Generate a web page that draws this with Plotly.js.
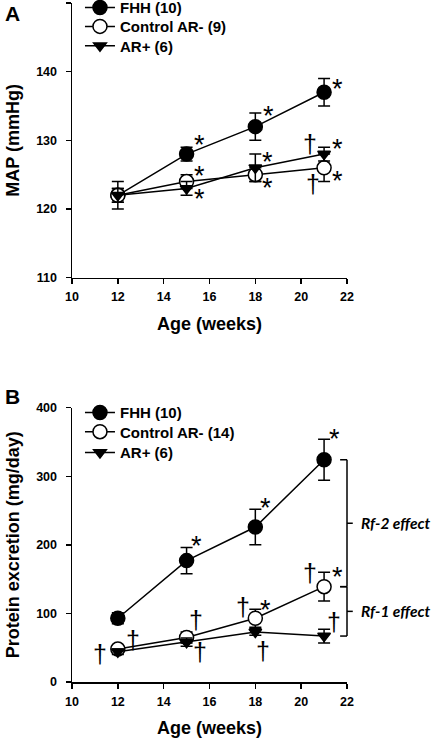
<!DOCTYPE html>
<html>
<head>
<meta charset="utf-8">
<script src="https://cdn.plot.ly/plotly-3.0.1.min.js"></script>
<style>html,body{margin:0;padding:0;background:#fff;}#chart{width:438px;height:742px;}</style>
</head>
<body>
<div id="chart"></div>
<script>
// ---- data ----
const weeks = [12, 15, 18, 21];
const xTicks = [10, 12, 14, 16, 18, 20, 22];

const mapFHH = [122, 128, 132, 137];
const mapFHHErr = [2, 1, 2, 2];
const mapCtrl = [122, 124, 125, 126];
const mapCtrlErr = [1, 1, 1, 2];
const mapAR = [122, 123, 126, 128];
const mapARErr = [1, 1, 2, 1];

const protFHH = [93, 177, 226, 324];
const protFHHErr = [8, 19, 26, 30];
const protCtrl = [48, 65, 93, 139];
const protCtrlErr = [5, 8, 13, 21];
const protAR = [44, 58, 73, 67];
const protARErr = [4, 6, 5, 10];

const namesTop = ["FHH (10)", "Control AR- (9)", "AR+ (6)"];
const namesBot = ["FHH (10)", "Control AR- (14)", "AR+ (6)"];

// ---- style ----
const FONT = "Liberation Sans, Arial, sans-serif";
const black = "#000";
const styles = [
  {symbol: "circle", size: 14, color: black},
  {symbol: "circle", size: 14, color: "#fff"},
  {symbol: "triangle-down", size: 11, color: black}
];

function mk(x, y, err, name, st, xa, ya, leg) {
  return {
    x: x, y: y, name: name, type: "scatter", mode: "lines+markers",
    xaxis: xa, yaxis: ya, legend: leg,
    line: {color: black, width: 1.5},
    marker: {symbol: st.symbol, size: st.size, color: st.color, line: {color: black, width: 1.5}},
    error_y: {type: "data", array: err, visible: true, color: black, thickness: 1.5, width: 6}
  };
}

const topSeries = [[mapFHH, mapFHHErr], [mapCtrl, mapCtrlErr], [mapAR, mapARErr]];
const botSeries = [[protFHH, protFHHErr], [protCtrl, protCtrlErr], [protAR, protARErr]];
const legIds = ["legend", "legend2", "legend3", "legend4", "legend5", "legend6"];

const traces = [];
topSeries.forEach((s, i) => traces.push(mk(weeks, s[0], s[1], namesTop[i], styles[i], "x", "y", legIds[i])));
botSeries.forEach((s, i) => traces.push(mk(weeks, s[0], s[1], namesBot[i], styles[i], "x2", "y2", legIds[3 + i])));

// significance marks: [panel, seriesIndex, pointIndex, symbol, dx, dy]
const marks = [
  ["top", 0, 1, "*", 12.6, 15], ["top", 0, 2, "*", 13, 17], ["top", 0, 3, "*", 13.5, 9],
  ["top", 1, 1, "*", 12.6, 12], ["top", 2, 1, "*", 12.6, -5],
  ["top", 2, 2, "*", 12.6, 12], ["top", 1, 2, "*", 12.6, -7],
  ["top", 2, 3, "*", 13.5, 11], ["top", 2, 3, "\u2020", -14.5, 10],
  ["top", 1, 3, "*", 13.5, -7], ["top", 1, 3, "\u2020", -11, -16],
  ["bot", 0, 1, "*", 10, 21], ["bot", 0, 2, "*", 10.6, 25], ["bot", 0, 3, "*", 10.5, 27],
  ["bot", 1, 3, "*", 13, 16], ["bot", 1, 3, "\u2020", -14, 14],
  ["bot", 1, 2, "*", 10.6, 14], ["bot", 1, 2, "\u2020", -12.8, 11],
  ["bot", 2, 3, "\u2020", 9.5, 14], ["bot", 2, 2, "\u2020", 8, -19],
  ["bot", 1, 1, "\u2020", 9.6, 17], ["bot", 2, 1, "\u2020", 13, -10],
  ["bot", 1, 0, "\u2020", 15.5, 9], ["bot", 2, 0, "\u2020", -18, -2]
];

const annotations = marks.map(m => {
  const ser = (m[0] === "top" ? topSeries : botSeries)[m[1]][0];
  const isStar = m[3] === "*";
  return {
    xref: m[0] === "top" ? "x" : "x2", yref: m[0] === "top" ? "y" : "y2",
    x: weeks[m[2]], y: ser[m[2]], text: m[3], showarrow: false,
    xshift: m[4], yshift: m[5] + (isStar ? -6 : 0),
    xanchor: "center", yanchor: "middle",
    font: {family: FONT, size: isStar ? 27 : 25, color: "#000000"}
  };
});

// panel labels
annotations.push({xref: "paper", yref: "paper", x: -0.25, y: 0.984, text: "A", showarrow: false,
  xanchor: "left", yanchor: "middle", font: {family: FONT, size: 21, color: black, weight: "bold"}});
annotations.push({xref: "paper", yref: "paper", x: -0.25, y: 0.421, text: "B", showarrow: false,
  xanchor: "left", yanchor: "middle", font: {family: FONT, size: 21, color: black, weight: "bold"}});

// bracket labels
const fhhLast = protFHH[protFHH.length - 1];
const ctrlLast = protCtrl[protCtrl.length - 1];
const arLast = protAR[protAR.length - 1];
const effFont = {family: "Lato, Open Sans, sans-serif", size: 15.5, color: black, weight: "bold", style: "italic"};
annotations.push({xref: "paper", yref: "y2", x: 1.045, y: (fhhLast + ctrlLast) / 2, text: "Rf-2 effect",
  showarrow: false, xanchor: "left", yanchor: "middle", font: effFont});
annotations.push({xref: "paper", yref: "y2", x: 1.045, y: (ctrlLast + arLast) / 2, text: "Rf-1 effect",
  showarrow: false, xanchor: "left", yanchor: "middle", font: effFont});

// brackets
const bx0 = 0.975, bx1 = 1.0, bx2 = 1.021;
const ln = {color: black, width: 1.5};
function bracket(yTop, yBot) {
  const mid = (yTop + yBot) / 2;
  return [
    {type: "line", xref: "paper", yref: "y2", x0: bx0, x1: bx1, y0: yTop, y1: yTop, line: ln},
    {type: "line", xref: "paper", yref: "y2", x0: bx1, x1: bx1, y0: yTop, y1: yBot, line: ln},
    {type: "line", xref: "paper", yref: "y2", x0: bx0, x1: bx1, y0: yBot, y1: yBot, line: ln},
    {type: "line", xref: "paper", yref: "y2", x0: bx1, x1: bx2, y0: mid, y1: mid, line: ln}
  ];
}
const shapes = bracket(fhhLast, ctrlLast).concat(bracket(ctrlLast, arLast));

const tickFont = {family: FONT, size: 12.5, color: black, weight: "bold"};
const titleFont = {family: FONT, size: 18, color: black, weight: "bold"};
function xax(anchor) {
  return {
    anchor: anchor, range: [10, 22], tickvals: xTicks, showgrid: false, zeroline: false,
    showline: true, linecolor: black, linewidth: 1.5, ticks: "outside", ticklen: 5, tickwidth: 1.5,
    tickcolor: black, tickfont: tickFont, ticklabelstandoff: 2,
    title: {text: "Age (weeks)", font: titleFont, standoff: 14}
  };
}
function yax(anchor, domain, range, dtick, title) {
  return {
    anchor: anchor, domain: domain, range: range, dtick: dtick, showgrid: false, zeroline: false,
    showline: true, linecolor: black, linewidth: 1.5, ticks: "outside", ticklen: 5, tickwidth: 1.5,
    tickcolor: black, tickfont: tickFont, ticklabelstandoff: 6,
    title: {text: title, font: titleFont, standoff: 12}
  };
}

const legFont = {family: FONT, size: 15, color: black, weight: "bold"};
const legYs = [0.993, 0.9652, 0.9367, 0.3965, 0.3683, 0.3377];
const layout = {
  width: 438, height: 742,
  margin: {l: 72, r: 91, t: 3, b: 60, autoexpand: false},
  paper_bgcolor: "#fff", plot_bgcolor: "#fff",
  showlegend: true,
  xaxis: xax("y"),
  yaxis: yax("x", [0.5954, 1], [110, 150], 10, "MAP (mmHg)"),
  xaxis2: xax("y2"),
  yaxis2: yax("x2", [0, 0.404], [0, 400], 100, "Protein excretion (mg/day)"),
  annotations: annotations,
  shapes: shapes
};
legIds.forEach((id, i) => {
  layout[id] = {x: 0.029, y: legYs[i], xanchor: "left", yanchor: "middle", font: legFont,
    bgcolor: "rgba(0,0,0,0)", borderwidth: 0, itemwidth: 30};
});

Plotly.newPlot("chart", traces, layout, {staticPlot: true, displayModeBar: false});
</script>
</body>
</html>
